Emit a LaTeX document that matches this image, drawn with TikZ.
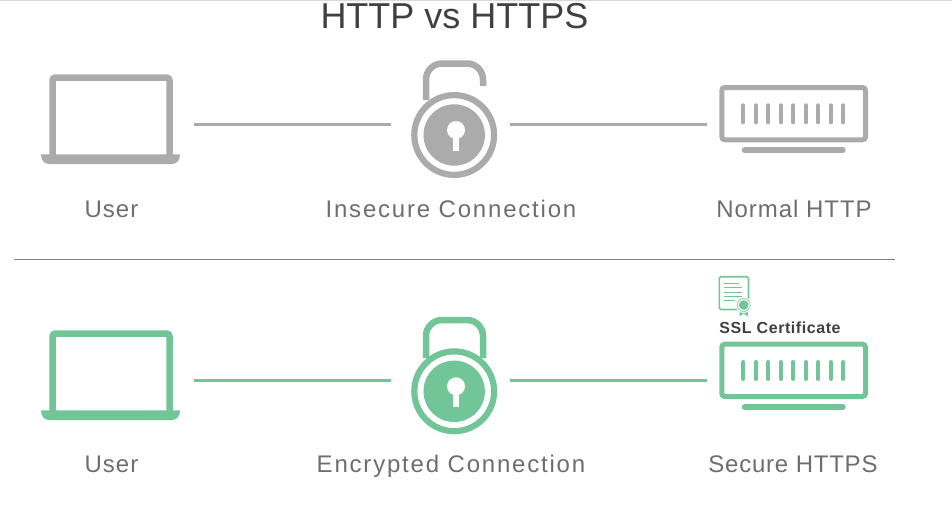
\documentclass[tikz,border=0pt]{standalone}
\usepackage{fontspec}
\setmainfont{Liberation Sans}
\newfontfamily\lblfont[LetterSpace=4]{Liberation Sans}
\newfontfamily\lblwide[LetterSpace=7.5]{Liberation Sans}
\newfontfamily\lblslim[LetterSpace=3.2]{Liberation Sans}
\newfontfamily\sslfont[LetterSpace=3.5]{Liberation Sans}
\definecolor{gr}{HTML}{ABABAB}
\definecolor{gn}{HTML}{72C597}
\definecolor{lab}{HTML}{6E6E6E}
\definecolor{ttl}{HTML}{404040}
\newcommand{\laptop}[2]{%
  \begin{scope}[yshift=#2pt]
  \draw[#1,line width=6.5pt,rounded corners=3pt] (52.5,156) -- (52.5,77.5) -- (169.5,77.5) -- (169.5,156);
  \fill[#1] (41,154.3) -- (180,154.3) .. controls (180,160) and (177,164) .. (172,164) -- (49,164) .. controls (44,164) and (41,160) .. (41,154.3) -- cycle;
  \end{scope}}
\newcommand{\lockbody}[2]{%
  \begin{scope}[yshift=#2pt]
  \draw[#1,line width=6.2pt] (454.2,135) circle[radius=39.9];
  \fill[#1] (454.2,135) circle[radius=30.7];
  \fill[white] (456,130) circle[radius=9];
  \fill[white] (453,130) rectangle (459,150.7);
  \end{scope}}
\newcommand{\server}[2]{%
  \begin{scope}[yshift=#2pt]
  \draw[#1,line width=5pt,rounded corners=3pt] (721.8,87.5) rectangle (865.5,139.8);
  \foreach \i in {0,...,8} {\draw[#1,line width=4pt,line cap=round] (743.3+12.5*\i,105.3) -- (743.3+12.5*\i,122.3);}
  \draw[#1,line width=6pt,line cap=round] (744.7,150.3) -- (842.7,150.3);
  \end{scope}}
\begin{document}
\begin{tikzpicture}[x=1pt,y=-1pt,
  conn/.style={line width=3pt},
  lbl/.style={font=\lblfont\fontsize{24}{26}\selectfont,text=lab,anchor=base,inner sep=0pt},
  lblw/.style={font=\lblwide\fontsize{24}{26}\selectfont,text=lab,anchor=base,inner sep=0pt},
  lbls/.style={font=\lblslim\fontsize{24}{26}\selectfont,text=lab,anchor=base,inner sep=0pt}]
\useasboundingbox (0,0) rectangle (952,504);
\fill[white] (0,0) rectangle (952,504);
\draw[black!15,line width=1pt] (0,0.5) -- (952,0.5);
\node[anchor=base,inner sep=0pt,text=ttl,font=\fontsize{36}{40}\selectfont] (title) at (454.5,28) {HTTP vs HTTPS};
% top row
\draw[gr,line width=6.5pt,rounded corners=16pt] (426,100) -- (426,63.5) -- (483,63.5) -- (483,86);
\laptop{gr}{0}
\lockbody{gr}{0}
\server{gr}{0}
\coordinate (a1) at (194,124.5); \coordinate (a2) at (391,124.5);
\coordinate (a3) at (510,124.5); \coordinate (a4) at (707,124.5);
\draw[gr,conn] (a1) -- (a2);
\draw[gr,conn] (a3) -- (a4);
\node[lbl] (u1) at (111.5,217) {User};
\node[lblw] (c1) at (451,217) {Insecure Connection};
\node[lbl] (s1) at (794,217) {Normal HTTP};
% divider
\coordinate (d1) at (14,259.5); \coordinate (d2) at (895,259.5);
\draw[black!50,line width=0.8pt] (d1) -- (d2);
% bottom row
\draw[gn,line width=6.5pt,rounded corners=16pt] (426,358) -- (426,320) -- (483,320) -- (483,358);
\laptop{gn}{-256}
\lockbody{gn}{-256.3}
\server{gn}{-256.7}
\coordinate (b1) at (194,380.7); \coordinate (b2) at (391,380.7);
\coordinate (b3) at (510,380.7); \coordinate (b4) at (707,380.7);
\draw[gn,conn] (b1) -- (b2);
\draw[gn,conn] (b3) -- (b4);
\node[lbl] (u2) at (111.5,472) {User};
\node[lblw] (c2) at (451,472) {Encrypted Connection};
\node[lbls] (s2) at (793,472) {Secure HTTPS};
% certificate
\draw[gn,line width=1.6pt,rounded corners=1.5pt] (719.3,276.7) rectangle (748.5,309.5);
\foreach \y/\a/\b in {283/724/739,287.5/724/742,292/724/742,296.5/724/742,300.5/724/735}{\draw[gn,line width=1pt] (\a,\y) -- (\b,\y);}
\fill[gn] (739.5,308) -- (739.5,316.5) -- (743.7,313.5) -- (748,316.5) -- (748,308) -- cycle;
\fill[white] (743.7,305) circle[radius=8];
\draw[gn!70,line width=1pt] (743.7,305) circle[radius=6.5];
\fill[gn] (743.7,305) circle[radius=4.8];
\node[anchor=base,inner sep=0pt,text=ttl,font=\sslfont\fontsize{16}{18}\selectfont\bfseries] (ssl) at (780,333) {SSL Certificate};
\end{tikzpicture}
\end{document}
